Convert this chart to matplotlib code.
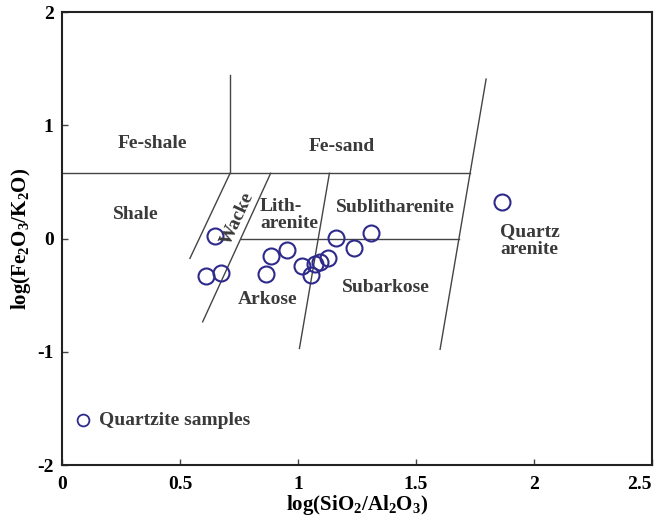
import matplotlib
matplotlib.use("Agg")
import matplotlib.pyplot as plt

plt.rcParams['font.family'] = 'Liberation Serif'
plt.rcParams['font.weight'] = 'bold'
plt.rcParams['axes.unicode_minus'] = False
plt.rcParams['mathtext.fontset'] = 'custom'
plt.rcParams['mathtext.rm'] = 'Liberation Serif:bold'
plt.rcParams['mathtext.bf'] = 'Liberation Serif:bold'
plt.rcParams['mathtext.default'] = 'bf'

# muestras (log SiO2/Al2O3, log Fe2O3/K2O)
sample_x = [0.648, 0.609, 0.674, 0.886, 0.952, 0.866, 1.018, 1.054, 1.073,
            1.093, 1.127, 1.161, 1.239, 1.309, 1.863]
sample_y = [0.025, -0.328, -0.307, -0.155, -0.102, -0.311, -0.240, -0.322, -0.225,
            -0.205, -0.172, 0.002, -0.081, 0.049, 0.320]

# lineas del diagrama (x0, x1), (y0, y1)
fe_line_x, fe_line_y = [0.0, 1.728], [0.576, 0.576]
feshale_x, feshale_y = [0.712, 0.712], [0.576, 1.444]
wacke_l_x, wacke_l_y = [0.712, 0.542], [0.576, -0.175]
wacke_r_x, wacke_r_y = [0.884, 0.596], [0.576, -0.735]
lith_x, lith_y = [1.133, 1.006], [0.576, -0.970]
quartz_x, quartz_y = [1.797, 1.602], [1.408, -0.978]
mid_x, mid_y = [0.758, 1.682], [0.0, 0.0]

# etiquetas de campos (centradas)
labels = ["Fe-shale", "Fe-sand", "Shale", "Sublitharenite", "Subarkose", "Arkose"]
label_x = [0.381, 1.186, 0.314, 1.411, 1.373, 0.873]
label_y = [0.835, 0.817, 0.216, 0.278, -0.428, -0.534]

fig = plt.figure(figsize=(6.57, 5.22), dpi=100)
ax = fig.add_axes([0.0944, 0.109, 0.898, 0.868])

lc = '#444444'
for xs, ys in [(fe_line_x, fe_line_y), (feshale_x, feshale_y), (wacke_l_x, wacke_l_y),
               (wacke_r_x, wacke_r_y), (lith_x, lith_y), (quartz_x, quartz_y), (mid_x, mid_y)]:
    ax.plot(xs, ys, color=lc, lw=1.0)

ax.plot(sample_x, sample_y, 'o', ms=11.5, mfc='none', mec='#2e2a8c', mew=1.5)

tc = '#3a3a3a'
fs = 14
for t, x, y in zip(labels, label_x, label_y):
    ax.text(x, y, t, ha='center', va='center', fontsize=fs, fontweight='bold',
            color=tc, linespacing=1.05)
ax.text(0.744, 0.18, "Wacke", rotation=65, ha='center', va='center', fontsize=fs,
        fontweight='bold', color=tc)
ax.text(0.839, 0.208, "Lith-\narenite", ha='left', va='center', fontsize=fs,
        fontweight='bold', color=tc, linespacing=1.05, multialignment='left')
ax.text(1.858, -0.018, "Quartz\narenite", ha='left', va='center', fontsize=fs,
        fontweight='bold', color=tc, linespacing=1.05)

# leyenda
ax.plot([0.089], [-1.606], 'o', ms=8.5, mfc='none', mec='#2e2a8c', mew=1.3)
ax.text(0.155, -1.606, "Quartzite samples", ha='left', va='center', fontsize=fs,
        fontweight='bold', color=tc)

ax.set_xlim(0, 2.5)
ax.set_ylim(-2, 2)
ax.set_xticks([0, 0.5, 1, 1.5, 2, 2.5])
xl = ax.set_xticklabels(['0', '0.5', '1', '1.5', '2', '2.5'], fontweight='bold')
xl[-1].set_horizontalalignment('right')
ax.set_yticks([-2, -1, 0, 1, 2])
ax.set_yticklabels(['-2', '-1', '0', '1', '2'], fontweight='bold')
ax.tick_params(direction='in', length=4, width=1, labelsize=14, color='#444444')
ax.tick_params(axis='x', pad=8)
ax.tick_params(axis='y', pad=6)
for s in ax.spines.values():
    s.set_linewidth(1.5)
    s.set_color('#222222')

ax.set_xlabel(r"log(SiO$_2$/Al$_2$O$_3$)", fontsize=15, fontweight='bold', labelpad=0)
ax.set_ylabel(r"log(Fe$_2$O$_3$/K$_2$O)", fontsize=15, fontweight='bold', labelpad=3)

plt.savefig("out.png", dpi=100)
